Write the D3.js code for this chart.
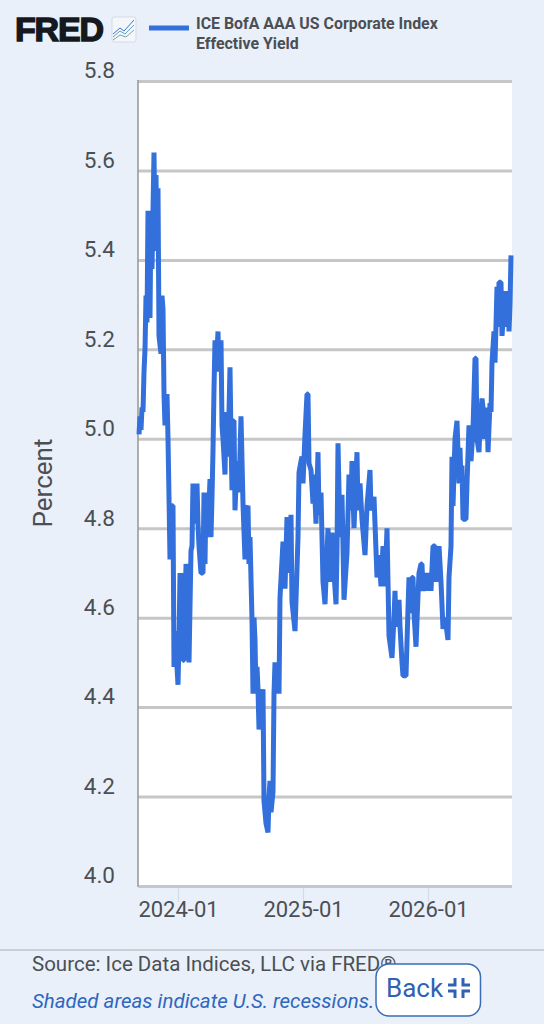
<!DOCTYPE html>
<html><head><meta charset="utf-8">
<script src="https://cdn.jsdelivr.net/npm/d3@7/dist/d3.min.js"></script>
<style>html,body{margin:0;padding:0;background:#e9f0f9;overflow:hidden}svg{display:block}text{font-family:Roboto,sans-serif}</style>
</head><body><svg id="c" width="544" height="1024"></svg>
<script>
const yearTicks=[2024,2025,2026];
const yearLabels=["2024-01","2025-01","2026-01"];
const valueTicks=[4.0,4.2,4.4,4.6,4.8,5.0,5.2,5.4,5.6,5.8];
// [decimal year, percent]
const obs2023=[[2023.688,5.01],[2023.696,5.05],[2023.704,5.02],[2023.712,5.07],[2023.72,5.06],[2023.728,5.15],[2023.736,5.20],[2023.744,5.32],[2023.752,5.26],[2023.76,5.51],[2023.768,5.38],[2023.776,5.27],[2023.784,5.51],[2023.792,5.38],[2023.808,5.64],[2023.816,5.45],[2023.824,5.59],[2023.832,5.42],[2023.84,5.56],[2023.848,5.23],[2023.864,5.19],[2023.872,5.32],[2023.88,5.29],[2023.888,5.10],[2023.896,5.03],[2023.912,5.10],[2023.92,5.00],[2023.928,4.87],[2023.936,4.73],[2023.952,4.85],[2023.96,4.85],[2023.968,4.49],[2023.976,4.57],[2023.992,4.49]];
const obs2024=[[2024.0,4.45],[2024.008,4.55],[2024.016,4.70],[2024.024,4.595],[2024.032,4.70],[2024.04,4.505],[2024.048,4.505],[2024.064,4.72],[2024.08,4.70],[2024.088,4.50],[2024.104,4.75],[2024.112,4.76],[2024.12,4.90],[2024.136,4.81],[2024.152,4.90],[2024.16,4.81],[2024.168,4.76],[2024.184,4.70],[2024.2,4.70],[2024.208,4.88],[2024.216,4.72],[2024.224,4.88],[2024.232,4.78],[2024.248,4.85],[2024.256,4.91],[2024.264,4.78],[2024.272,4.87],[2024.28,4.975],[2024.288,5.11],[2024.296,5.22],[2024.304,5.15],[2024.32,5.24],[2024.328,5.15],[2024.344,5.22],[2024.352,5.03],[2024.36,5.0],[2024.376,4.92],[2024.384,5.06],[2024.392,5.0],[2024.4,4.96],[2024.408,5.06],[2024.416,5.16],[2024.424,5.0],[2024.432,4.885],[2024.44,5.04],[2024.448,5.04],[2024.456,4.84],[2024.472,4.95],[2024.488,4.88],[2024.504,5.05],[2024.52,4.855],[2024.536,4.73],[2024.544,4.84],[2024.56,4.85],[2024.568,4.72],[2024.576,4.78],[2024.592,4.595],[2024.6,4.43],[2024.608,4.6],[2024.616,4.55],[2024.624,4.43],[2024.632,4.49],[2024.64,4.44],[2024.648,4.35],[2024.664,4.4],[2024.68,4.44],[2024.688,4.19],[2024.704,4.14],[2024.72,4.12],[2024.728,4.2],[2024.736,4.235],[2024.744,4.165],[2024.76,4.21],[2024.768,4.43],[2024.776,4.5],[2024.784,4.44],[2024.8,4.5],[2024.808,4.43],[2024.816,4.645],[2024.84,4.77],[2024.856,4.665],[2024.872,4.825],[2024.888,4.70],[2024.904,4.83],[2024.912,4.635],[2024.936,4.57],[2024.96,4.78],[2024.968,4.925],[2024.984,4.95],[2024.992,4.96]];
const obs2025=[[2025.0,4.90],[2025.016,5.01],[2025.032,5.10],[2025.04,5.10],[2025.048,4.945],[2025.064,4.93],[2025.08,4.855],[2025.088,4.92],[2025.104,4.81],[2025.12,4.97],[2025.128,4.83],[2025.144,4.88],[2025.16,4.68],[2025.176,4.63],[2025.2,4.80],[2025.216,4.68],[2025.232,4.79],[2025.248,4.70],[2025.264,4.63],[2025.272,4.75],[2025.28,4.99],[2025.296,4.78],[2025.312,4.875],[2025.328,4.64],[2025.352,4.745],[2025.368,4.92],[2025.384,4.84],[2025.392,4.95],[2025.408,4.80],[2025.432,4.97],[2025.44,4.84],[2025.456,4.90],[2025.472,4.82],[2025.496,4.74],[2025.512,4.85],[2025.536,4.93],[2025.544,4.84],[2025.568,4.87],[2025.584,4.75],[2025.592,4.69],[2025.608,4.74],[2025.624,4.67],[2025.64,4.76],[2025.656,4.67],[2025.672,4.80],[2025.688,4.56],[2025.712,4.51],[2025.728,4.60],[2025.736,4.66],[2025.744,4.58],[2025.768,4.64],[2025.776,4.58],[2025.792,4.50],[2025.8,4.47],[2025.824,4.47],[2025.84,4.62],[2025.848,4.69],[2025.856,4.61],[2025.872,4.69],[2025.88,4.69],[2025.888,4.61],[2025.904,4.535],[2025.92,4.65],[2025.928,4.70],[2025.944,4.72],[2025.952,4.72],[2025.96,4.66],[2025.984,4.70]];
const obs2026=[[2026.0,4.66],[2026.016,4.70],[2026.024,4.66],[2026.04,4.76],[2026.056,4.76],[2026.064,4.68],[2026.088,4.76],[2026.104,4.68],[2026.12,4.575],[2026.136,4.60],[2026.16,4.55],[2026.168,4.69],[2026.184,4.76],[2026.192,4.96],[2026.2,4.85],[2026.216,5.00],[2026.232,5.04],[2026.248,4.90],[2026.256,4.98],[2026.264,4.90],[2026.272,4.94],[2026.28,4.82],[2026.304,4.82],[2026.312,4.90],[2026.328,5.03],[2026.344,4.95],[2026.36,5.02],[2026.376,5.18],[2026.384,5.18],[2026.392,5.0],[2026.408,4.97],[2026.416,5.03],[2026.432,5.09],[2026.44,5.07],[2026.448,5.0],[2026.472,5.07],[2026.48,4.97],[2026.496,5.08],[2026.504,5.06],[2026.512,5.17],[2026.528,5.24],[2026.536,5.17],[2026.552,5.34],[2026.56,5.25],[2026.568,5.35],[2026.584,5.35],[2026.592,5.23],[2026.616,5.33],[2026.624,5.25],[2026.64,5.33],[2026.648,5.24],[2026.656,5.30],[2026.664,5.41]];

const svg=d3.select("#c");
const x=d3.scaleLinear().domain([2023.68,2026.672]).range([138,512]);
const y=d3.scaleLinear().domain([4,5.8]).range([886,81]);
const ink="#4b4f54";

svg.append("rect").attr("x",138).attr("y",81).attr("width",374).attr("height",805).attr("fill","#fff");

const ya=svg.append("g").attr("transform","translate(138,0)")
 .call(d3.axisLeft(y).tickValues(valueTicks).tickFormat(d3.format(".1f")).tickSize(-374).tickPadding(23));
ya.select(".domain").remove();
ya.selectAll("line").attr("stroke","#c6c6c6").attr("stroke-width",3);
ya.selectAll("text").attr("fill",ink).attr("font-size",22.5).attr("dy","-0.14em");

svg.append("line").attr("x1",138).attr("x2",138).attr("y1",80).attr("y2",887).attr("stroke","#9b9b9b").attr("stroke-width",1.6);

const xa=svg.append("g").attr("transform","translate(0,887)")
 .call(d3.axisBottom(x).tickValues(yearTicks).tickFormat((d,i)=>yearLabels[i]).tickSize(15).tickPadding(0));
xa.select(".domain").remove();
xa.selectAll("line").attr("stroke","#d3dbe8").attr("stroke-width",1.2);
xa.selectAll("text").attr("fill",ink).attr("font-size",22).attr("dy","0.68em");
svg.append("line").attr("x1",138).attr("x2",512).attr("y1",887).attr("y2",887).attr("stroke","#c3c6cc").attr("stroke-width",2);

const pts=[...obs2023,...obs2024,...obs2025,...obs2026];
svg.append("path").datum(pts)
 .attr("d",d3.line().x(d=>x(d[0])).y(d=>y(d[1])))
 .attr("fill","none").attr("stroke","#3370dc").attr("stroke-width",5).attr("stroke-linejoin","bevel").attr("stroke-linecap","butt");

svg.append("text").attr("transform","translate(52,483) rotate(-90)").attr("text-anchor","middle").attr("font-size",26).attr("fill",ink).text("Percent");

// header
svg.append("text").attr("x",15).attr("y",41).style("font-family","'Liberation Sans',sans-serif").attr("font-weight",700).attr("font-size",34).attr("stroke","#15181c").attr("stroke-width",1.4).attr("fill","#15181c").attr("textLength",89).text("FRED");
svg.append("rect").attr("x",112).attr("y",17).attr("width",24).attr("height",25).attr("rx",2).attr("fill","#f3f6fa").attr("stroke","#d5dbe3");
[["#3b77c9",[[113,34],[120,28],[124,31],[134,20]]],["#5fa3c9",[[113,37],[120,31],[125,34],[134,25]]],["#7fa79a",[[113,40],[120,35],[126,37],[134,30]]]].forEach(([col,p])=>{
 svg.append("path").attr("d",d3.line()(p)).attr("fill","none").attr("stroke",col).attr("stroke-width",1);
});
svg.append("line").attr("x1",149).attr("x2",189).attr("y1",28).attr("y2",28).attr("stroke","#3370dc").attr("stroke-width",5);
svg.append("text").attr("x",196).attr("y",29).attr("font-size",15.9).attr("font-weight",700).attr("fill",ink).text("ICE BofA AAA US Corporate Index");
svg.append("text").attr("x",196).attr("y",49).attr("font-size",15.9).attr("font-weight",700).attr("fill",ink).text("Effective Yield");

// footer
svg.append("line").attr("x1",0).attr("x2",544).attr("y1",950).attr("y2",950).attr("stroke","#a9adb3").attr("stroke-width",1);
svg.append("text").attr("x",32).attr("y",971).attr("font-size",20.5).attr("fill",ink).text("Source: Ice Data Indices, LLC via FRED®");
svg.append("text").attr("x",32).attr("y",1007.5).attr("font-size",20.5).attr("font-style","italic").attr("fill","#2f66c0").text("Shaded areas indicate U.S. recessions.");
svg.append("rect").attr("x",376).attr("y",964).attr("width",104.5).attr("height",52).attr("rx",13).attr("fill","#fff").attr("stroke","#3a6cb8").attr("stroke-width",1.5);
svg.append("text").attr("x",386).attr("y",997).attr("font-size",26).attr("fill","#2f62b4").text("Back");
[[448,978,1,-1],[470,978,-1,-1],[448,998,1,1],[470,998,-1,1]].forEach(([px,py,a,b])=>{
 svg.append("path").attr("d",`M${px} ${b<0?py+7:py-7}h${a*7}v${b<0?-7:7}`).attr("fill","none").attr("stroke","#2f62b4").attr("stroke-width",3);
});
</script></body></html>
